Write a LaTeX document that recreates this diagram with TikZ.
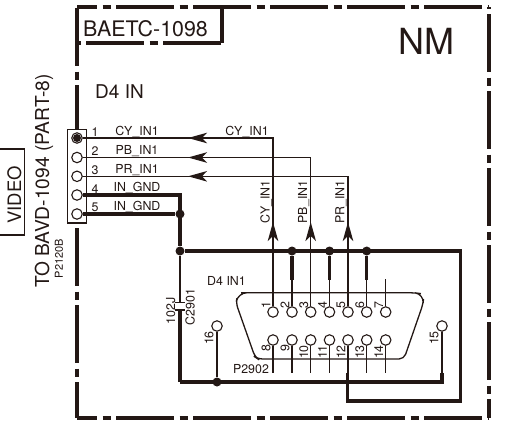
\documentclass[tikz,border=0pt]{standalone}
\usepackage{fontspec}
\setmainfont{TeX Gyre Heros}
\usetikzlibrary{arrows.meta}
\definecolor{ink}{HTML}{231815}
\tikzset{
  frameline/.style={line width=3.5pt, dash pattern=on 58pt off 5.5pt on 8pt off 5.5pt},
  thinwire/.style={line width=1.4pt},
  thickwire/.style={line width=3.1pt},
  hole/.style={circle, draw=ink, fill=white, line width=1.1pt, minimum size=10.5pt, inner sep=0pt},
  dot/.style={circle, fill=ink, minimum size=9pt, inner sep=0pt},
  lbl/.style={inner sep=0pt, font=\fontsize{12.4}{12}\selectfont},
  pinlbl/.style={lbl, rotate=90},
  wirearrow/.style={line width=1.4pt, -{Stealth[length=19pt, width=10.5pt, inset=5pt]}},
}
\begin{document}
\begin{tikzpicture}[x=1pt, y=-1pt, ink, text=ink]
  \useasboundingbox (0,0) rectangle (509,424);

  % outer frame
  \coordinate (tl) at (77,7);
  \coordinate (tr) at (489,7);
  \coordinate (bl) at (77,418);
  \coordinate (br) at (489,418);
  \coordinate (lhi) at (77,129);
  \coordinate (llo) at (77,223);
  \draw[frameline, dash phase=38pt] (tl) -- (tr);
  \draw[frameline, dash phase=70pt] (tr) -- (br);
  \draw[frameline, dash phase=38pt] (bl) -- (br);
  \draw[frameline, dash phase=76pt] (tl) -- (lhi);
  \draw[frameline, dash phase=72pt] (llo) -- (bl);

  % title tab
  \coordinate (tabr) at (222,7);
  \coordinate (tabc) at (222,43);
  \coordinate (tabl) at (77,43);
  \draw[line width=3.5pt] (tabr) -- (tabc);
  \draw[frameline, dash phase=68pt] (tabl) -- (tabc);
  \node[inner sep=0pt, font=\fontsize{21.4}{21}\selectfont] (board) at (145.5,29) {BAETC-1098};
  \node[inner sep=0pt, font=\fontsize{36}{36}\selectfont] (nm) at (426,41) {NM};
  \node[inner sep=0pt, font=\fontsize{19}{19}\selectfont] (d4in) at (119.5,92) {D4 IN};

  % side labels
  \draw[line width=1.1pt] (-2,149) rectangle (24.5,235);
  \node[inner sep=0pt, rotate=90, font=\fontsize{18.5}{18}\selectfont] (video) at (14.5,195) {VIDEO};
  \node[inner sep=0pt, rotate=90, font=\fontsize{19.2}{19}\selectfont] (toboard) at (44,181) {TO BAVD-1094 (PART-8)};
  \node[inner sep=0pt, rotate=90, font=\fontsize{11}{11}\selectfont] (p2120b) at (59,258.5) {P2120B};

  % header P2120B
  \draw[line width=1.3pt, fill=white] (67.5,129.5) rectangle (86.5,223);
  \foreach \y [count=\n] in {138,157.5,176.3,195,214} {
    \node[hole] (hdr\n) at (77,\y) {};
    \node[lbl] (num\n) at (95,\y-6.3) {\n};
  }
  \node[circle, fill=ink, minimum size=8pt, inner sep=0pt] (hdrdot) at (hdr1) {};
  \foreach \t [count=\n] in {CY\_IN1,PB\_IN1,PR\_IN1,IN\_GND,IN\_GND} {
    \node[lbl] (sig\n) at (137,132+18.8*\n-18.8) {\t};
  }
  \node[lbl] (cytop) at (247,132) {CY\_IN1};

  % D-sub shell
  \draw[line width=1.3pt, rounded corners=7pt]
    (250,292.7) -- (414,292.7) [rounded corners=9pt] -- (424,294) [rounded corners=5pt] -- (423,304)
    -- (404,359) -- (258,359) [rounded corners=5pt] -- (255,357) -- (236,303) [rounded corners=9pt] -- (238,292.7) -- cycle;

  % pins, upper and lower row
  \foreach \x [count=\n] in {273,292,310.7,329.5,348,366.7,385.7} {
    \node[hole] (pin\n) at (\x,312) {};
    \node[pinlbl] (pinnum\n) at (\x-7,305) {\n};
  }
  \foreach \x/\n/\yy in {273/8/348,292/9/348,310.7/10/352,329.5/11/352,348/12/352,366.7/13/352,385.7/14/352} {
    \node[hole] (pin\n) at (\x,340) {};
    \node[pinlbl] (pinnum\n) at (\x-7,\yy) {\n};
    \coordinate (lead\n) at (\x,373);
    \draw[thinwire] (pin\n) -- (lead\n);
  }
  \node[hole] (pin15) at (442,326) {};
  \node[pinlbl] (pinnum15) at (434,338) {15};
  \node[hole] (pin16) at (217,326) {};
  \node[pinlbl] (pinnum16) at (209,338) {16};
  \node[lbl] (d4inone) at (226.5,281) {D4 IN1};
  \node[lbl] (p2902) at (251,369) {P2902};

  % signal wires
  \coordinate (cybend) at (273,138);
  \coordinate (pbbend) at (310.7,157.5);
  \coordinate (prbend) at (348,176.3);
  \draw[thinwire] (hdr1) -- (cybend) -- (pin1);
  \draw[thinwire] (hdr2) -- (pbbend) -- (pin3);
  \draw[thinwire] (hdr3) -- (prbend) -- (pin5);
  \foreach \x/\c/\t in {273/cy/CY,310.7/pb/PB,348/pr/PR} {
    \coordinate (\c up) at (\x,241);
    \coordinate (\c uptip) at (\x,222);
    \draw[wirearrow] (\c up) -- (\c uptip);
    \node[pinlbl] (\c vert) at (\x-7,202) {\t\_IN1};
  }
  \foreach \y/\c in {138/cy,157.5/pb,176.3/pr} {
    \coordinate (\c left) at (208,\y);
    \coordinate (\c lefttip) at (188,\y);
    \draw[wirearrow] (\c left) -- (\c lefttip);
  }

  % ground net
  \node[dot] (gndtee) at (180,214) {};
  \node[dot] (gndleft) at (180,251) {};
  \node[dot] (gndtwo) at (292,251) {};
  \node[dot] (gndfour) at (329.5,251) {};
  \node[dot] (gndsix) at (366.7,251) {};
  \node[dot] (gndsixteen) at (217,382) {};
  \coordinate (gndtop) at (180,195);
  \coordinate (busr) at (460.7,251);
  \coordinate (busrb) at (460.7,401);
  \coordinate (busb) at (347.7,401);
  \coordinate (busup) at (347.7,373);
  \coordinate (lowl) at (180,382);
  \coordinate (lowr) at (442,382);
  \coordinate (lowup) at (442,373);
  \draw[thickwire] (hdr4) -- (gndtop) -- (gndleft);
  \draw[thickwire] (hdr5) -- (gndtee);
  \draw[thickwire] (gndleft) -- (busr) -- (busrb) -- (busb) -- (busup);
  \draw[thickwire] (lowl) -- (lowr) -- (lowup);
  \foreach \x/\g/\p in {292/gndtwo/2,329.5/gndfour/4,366.7/gndsix/6} {
    \coordinate (stub\p) at (\x,280);
    \draw[thickwire] (\g) -- (stub\p);
    \draw[thinwire] (stub\p) -- (pin\p);
  }
  \coordinate (stub7) at (385.7,279);
  \draw[thinwire] (stub7) -- (pin7);
  \draw[thinwire] (lowup) -- (pin15);
  \draw[thinwire] (gndsixteen) -- (pin16);

  % capacitor C2901
  \coordinate (capa) at (180,302.5);
  \coordinate (capb) at (180,310);
  \draw[thinwire] (gndleft) -- (capa);
  \draw[thickwire] (capb) -- (lowl);
  \draw[thinwire] (175,302.5) -- (185,302.5);
  \draw[thinwire] (175,310) -- (185,310);
  \node[pinlbl] (capval) at (170.7,311) {102J};
  \node[pinlbl] (capname) at (190,307) {C2901};
\end{tikzpicture}
\end{document}
